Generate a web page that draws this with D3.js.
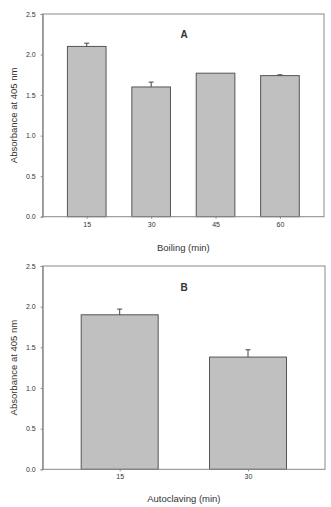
<!DOCTYPE html>
<html><head><meta charset="utf-8">
<script src="https://cdn.jsdelivr.net/npm/d3@7"></script>
<style>body{margin:0;background:#fff}svg{display:block}text{font-family:"Liberation Sans",Arial,sans-serif;fill:#333}</style>
</head><body>
<svg id="c" width="331" height="507"></svg>
<script>
const boilCats = ["15","30","45","60"];
const boilVals = [2.10, 1.60, 1.77, 1.74];
const boilErr  = [0.04, 0.06, 0.0, 0.01];
const autoCats = ["15","30"];
const autoVals = [1.90, 1.38];
const autoErr  = [0.07, 0.09];
const yTicks = [0, 0.5, 1.0, 1.5, 2.0, 2.5];

const svg = d3.select("#c");

function panel(cfg){
  const {top, bottom, left, right, cats, vals, errs, pad, barW, label, xTitle, titleY, xTitleY} = cfg;
  const g = svg.append("g");
  const x = d3.scalePoint().domain(cats).range([left, right]).padding(pad);
  const y = d3.scaleLinear().domain([0, 2.5]).range([bottom, top]);
  const bw = x.step() * barW;
  g.selectAll("rect.bar").data(cats).join("rect")
    .attr("x", (d)=>x(d)-bw/2).attr("width", bw)
    .attr("y", (d,i)=>y(vals[i])).attr("height", (d,i)=>y(0)-y(vals[i]))
    .attr("fill", "#c0c0c0").attr("stroke", "#555").attr("stroke-width", 1);
  cats.forEach((d,i)=>{
    if(errs[i] <= 0) return;
    g.append("line").attr("x1", x(d)).attr("x2", x(d))
      .attr("y1", y(vals[i])).attr("y2", y(vals[i]+errs[i]))
      .attr("stroke", "#444").attr("stroke-width", 1);
    g.append("line").attr("x1", x(d)-2.5).attr("x2", x(d)+2.5)
      .attr("y1", y(vals[i]+errs[i])).attr("y2", y(vals[i]+errs[i]))
      .attr("stroke", "#444").attr("stroke-width", 1);
  });
  g.append("rect").attr("x", left).attr("y", top).attr("width", right-left).attr("height", bottom-top)
    .attr("fill", "none").attr("stroke", "#888").attr("stroke-width", 1);
  const ya = g.append("g").attr("transform", `translate(${left},0)`)
    .call(d3.axisLeft(y).tickValues(yTicks).tickFormat(d3.format(".1f")).tickSize(2).tickPadding(5));
  ya.select(".domain").attr("stroke", "#888");
  ya.selectAll(".tick line").attr("stroke", "#888");
  ya.selectAll("text").attr("font-size", 7).attr("fill", "#444").style("font-family", '"Liberation Sans",Arial,sans-serif');
  const xa = g.append("g").attr("transform", `translate(0,${bottom})`)
    .call(d3.axisBottom(x).tickSize(2).tickPadding(3));
  xa.select(".domain").remove();
  xa.selectAll(".tick line").attr("stroke", "#888");
  xa.selectAll("text").attr("font-size", 7).attr("fill", "#444").style("font-family", '"Liberation Sans",Arial,sans-serif');
  g.append("text").attr("x", (left+right)/2).attr("y", xTitleY).attr("text-anchor", "middle")
    .attr("font-size", 9.5).text(xTitle);
  g.append("text").attr("transform", `translate(16.5,${(top+bottom)/2}) rotate(-90)`)
    .attr("text-anchor", "middle").attr("font-size", 9.5).text("Absorbance at 405 nm");
  g.append("text").attr("x", 184).attr("y", titleY).attr("text-anchor", "middle")
    .attr("font-size", 10).attr("font-weight", "bold").attr("fill", "#222").text(label);
}

panel({top:14, bottom:216.7, left:42.7, right:324, cats:boilCats, vals:boilVals, errs:boilErr,
  pad:0.684, barW:0.6, label:"A", xTitle:"Boiling (min)", titleY:38, xTitleY:250.5});
panel({top:266, bottom:469.3, left:42.7, right:325, cats:autoCats, vals:autoVals, errs:autoErr,
  pad:0.6, barW:0.6, label:"B", xTitle:"Autoclaving (min)", titleY:290.5, xTitleY:501.5});
</script>
</body></html>
